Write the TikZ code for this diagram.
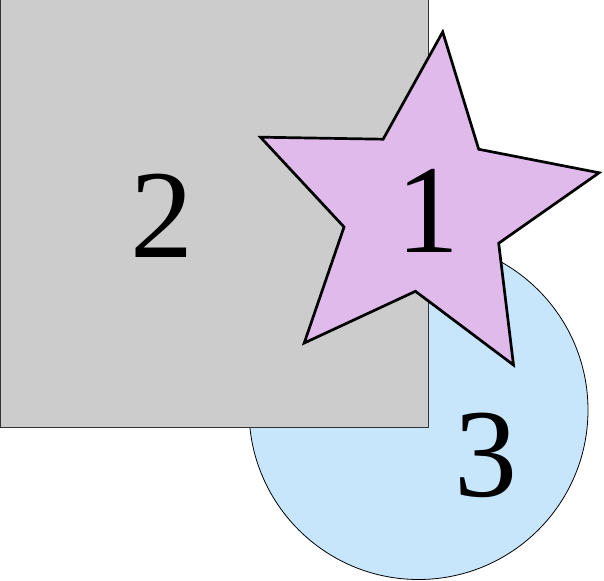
\documentclass[tikz,border=0pt]{standalone}
\usepackage{fontspec}
\setmainfont{Liberation Serif}
\usetikzlibrary{shapes.geometric}
\definecolor{cinzaq}{RGB}{204,204,204}
\definecolor{azulc}{RGB}{199,230,252}
\definecolor{lilas}{RGB}{223,186,235}

\begin{document}
\begin{tikzpicture}[
    x=1pt, y=1pt,
    quadrado/.style={
        rectangle, draw=black!80, line width=1pt, fill=cinzaq,
        minimum size=428pt, inner sep=0pt
    },
    circulo/.style={
        circle, draw=black, line width=0.8pt, fill=azulc,
        minimum size=339pt, inner sep=0pt
    },
    estrela/.style={
        star, star points=5, star point ratio=2.19,
        shape border rotate=-6, draw=black, line width=2.7pt,
        fill=lilas, minimum size=358pt, inner sep=0pt
    },
    rotulo/.style={
        inner sep=0pt, font=\fontsize{126}{126}\selectfont
    }
]
\useasboundingbox (0,0) rectangle (604,580);

% Formas
\node[circulo] (circ) at (418.5,170) {};
\node[quadrado] (quad) at (214,366) {};
\node[estrela] (star) at (424,370) {};

% Rótulos
\node[rotulo] (n2) at (161.5,364.5) {2};
\node[rotulo] (n1) at (428,369.5) {1};
\node[rotulo] (n3) at (486,125) {3};

\end{tikzpicture}
\end{document}
